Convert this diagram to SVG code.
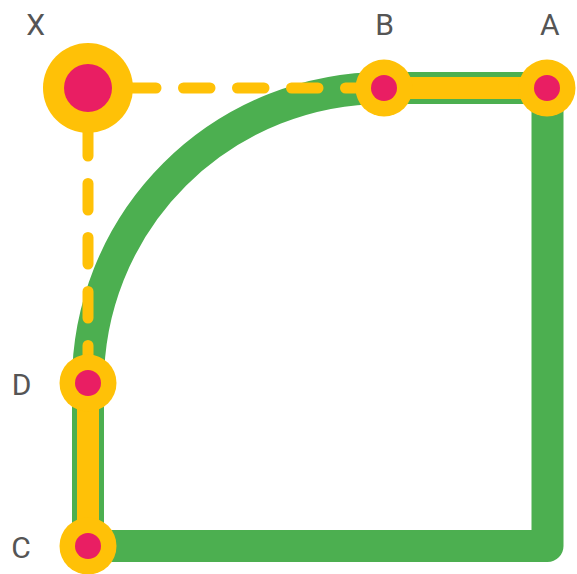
<svg xmlns="http://www.w3.org/2000/svg" width="577" height="574" viewBox="0 0 577 574">
<style>
.track{fill:none;stroke:#4CAF50;stroke-width:32;stroke-linejoin:round}
.bar{fill:none;stroke:#FFC107;stroke-width:22;stroke-linecap:round}
.dash{fill:none;stroke:#FFC107;stroke-width:11;stroke-linecap:round;stroke-dasharray:26.5 27.5}
.ring{fill:#FFC107}
.dot{fill:#E91E63}
.lbl{font-family:Roboto,"Liberation Sans",sans-serif;font-size:30px;font-weight:400;fill:#555;text-anchor:middle}
</style>
<g id="connectors">
<path class="track" d="M88 383 A296 295 0 0 1 384 88 L547.5 88 L547.5 546 L88 546 Z"/>
<line class="bar" x1="384" y1="88" x2="547" y2="88"/>
<line class="bar" x1="88" y1="383" x2="88" y2="546"/>
<line class="dash" x1="75.5" y1="88" x2="384" y2="88"/>
<line class="dash" x1="88" y1="75.5" x2="88" y2="383"/>
</g>
<g id="node-X">
<circle class="ring" cx="88" cy="88" r="45"/>
<circle class="dot" cx="88" cy="88" r="24"/>
<text class="lbl" x="35.7" y="35">X</text>
</g>
<g id="node-B">
<circle class="ring" cx="384" cy="88" r="28.5"/>
<circle class="dot" cx="384" cy="88" r="13"/>
<text class="lbl" x="384.7" y="35">B</text>
</g>
<g id="node-A">
<circle class="ring" cx="547" cy="88" r="28.5"/>
<circle class="dot" cx="547" cy="88" r="13"/>
<text class="lbl" x="549.7" y="35">A</text>
</g>
<g id="node-D">
<circle class="ring" cx="88" cy="383" r="28.5"/>
<circle class="dot" cx="88" cy="383" r="13"/>
<text class="lbl" x="21.7" y="395">D</text>
</g>
<g id="node-C">
<circle class="ring" cx="88" cy="546" r="28.5"/>
<circle class="dot" cx="88" cy="546" r="13"/>
<text class="lbl" x="21" y="558">C</text>
</g>
</svg>
